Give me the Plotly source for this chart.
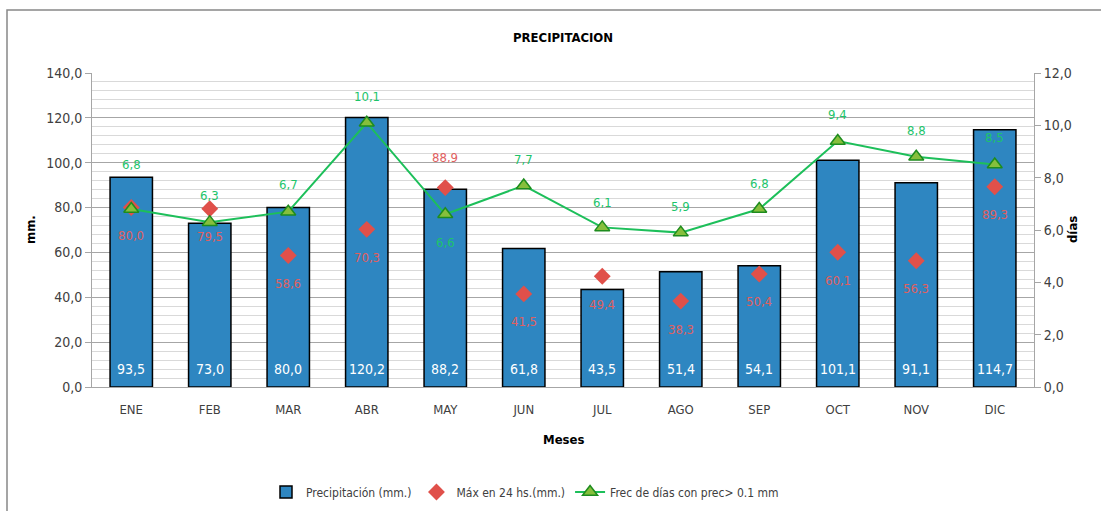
import plotly.graph_objects as go

meses = ["ENE", "FEB", "MAR", "ABR", "MAY", "JUN", "JUL", "AGO", "SEP", "OCT", "NOV", "DIC"]
precip = [93.5, 73.0, 80.0, 120.2, 88.2, 61.8, 43.5, 51.4, 54.1, 101.1, 91.1, 114.7]
max24 = [80.0, 79.5, 58.6, 70.3, 88.9, 41.5, 49.4, 38.3, 50.4, 60.1, 56.3, 89.3]
frec = [6.8, 6.3, 6.7, 10.1, 6.6, 7.7, 6.1, 5.9, 6.8, 9.4, 8.8, 8.5]

# label pixel offsets (style only)
max_shift = [-28, -28, -28, -28, 30, -28, -28, -28, -28, -28, -28, -28]
frec_shift = [45, 27, 27, 26, -28, 26, 25, 26, 26, 27, 26, 27]

FONT = "DejaVu Sans Condensed, Liberation Sans, Arial"

def fmt(v):
    return f"{v:.1f}".replace(".", ",")

fig = go.Figure()
fig.add_trace(go.Bar(
    x=meses, y=precip, name="Precipitación (mm.)",
    marker=dict(color="#2E86C1", line=dict(color="#000000", width=1.5)),
    width=0.54,
))
fig.add_trace(go.Scatter(
    x=meses, y=max24, name="Máx en 24 hs.(mm.)", mode="markers",
    marker=dict(symbol="diamond", size=13, color="#E0504A"),
))
fig.add_trace(go.Scatter(
    x=meses, y=frec, name="Frec de días con prec> 0.1 mm", mode="lines+markers",
    yaxis="y2",
    line=dict(color="#1DBF5A", width=2),
    marker=dict(symbol="triangle-up", size=13, color="#86BF3C", line=dict(color="#1E8C1E", width=1.5)),
))

ann = []
for m, v in zip(meses, precip):
    ann.append(dict(x=m, y=0, xref="x", yref="y", text=fmt(v), showarrow=False,
                    yshift=18, yanchor="middle",
                    font=dict(color="white", size=14, family=FONT)))
for m, v, s in zip(meses, max24, max_shift):
    ann.append(dict(x=m, y=v, xref="x", yref="y", text=fmt(v), showarrow=False,
                    yshift=s, yanchor="middle",
                    font=dict(color="#E06060", size=13, family=FONT)))
for m, v, s in zip(meses, frec, frec_shift):
    ann.append(dict(x=m, y=v, xref="x", yref="y2", text=fmt(v), showarrow=False,
                    yshift=s, yanchor="middle",
                    font=dict(color="#1DC46A", size=13, family=FONT)))
# titles
ann.append(dict(x=0.5, y=(387 - 38) / 314, xref="paper", yref="paper", text="<b>PRECIPITACION</b>",
                showarrow=False, yanchor="middle", font=dict(size=13, color="#000000", family=FONT)))
ann.append(dict(x=0.5, y=(387 - 439) / 314, xref="paper", yref="paper", text="<b>Meses</b>",
                showarrow=False, yanchor="middle", font=dict(size=13, color="#000000", family=FONT)))
ann.append(dict(x=(30 - 92) / 942, y=0.5, xref="paper", yref="paper", text="<b>mm.</b>", textangle=-90,
                showarrow=False, xanchor="center", yanchor="middle", font=dict(size=13, color="#000000", family=FONT)))
ann.append(dict(x=(1072 - 92) / 942, y=0.5, xref="paper", yref="paper", text="<b>días</b>", textangle=-90,
                showarrow=False, xanchor="center", yanchor="middle", font=dict(size=13, color="#000000", family=FONT)))

fig.update_layout(
    width=1101, height=511,
    margin=dict(l=92, r=67, t=73, b=124, autoexpand=False),
    paper_bgcolor="white", plot_bgcolor="white",
    separators=",.",
    font=dict(family=FONT, size=13, color="#404040"),
    showlegend=True,
    legend=dict(orientation="h", x=(525 - 92) / 942, xanchor="center", y=(387 - 492) / 314, yanchor="middle",
                font=dict(size=12, color="#404040", family=FONT), traceorder="normal"),
    annotations=ann,
    xaxis=dict(
        range=[-0.5, len(meses) - 0.5],
        showgrid=False, showline=True, linecolor="#A6A6A6", linewidth=1,
        tickfont=dict(size=13, color="#404040"), automargin=False, ticklabelstandoff=10,
    ),
    yaxis=dict(
        range=[0, 140], dtick=20, tickformat=".1f",
        showgrid=True, gridcolor="#A6A6A6", gridwidth=1,
        minor=dict(dtick=4, showgrid=True, gridcolor="#D9D9D9", gridwidth=1),
        showline=True, linecolor="#A6A6A6", linewidth=1,
        ticks="outside", ticklen=6, tickcolor="#A6A6A6",
        tickfont=dict(size=14, color="#404040"), automargin=False,
        zeroline=False,
    ),
    yaxis2=dict(
        range=[0, 12], dtick=2, tickformat=".1f", overlaying="y", side="right",
        showgrid=False, showline=True, linecolor="#A6A6A6", linewidth=1,
        ticks="outside", ticklen=6, tickcolor="#A6A6A6",
        tickfont=dict(size=14, color="#404040"), automargin=False,
        zeroline=False,
    ),
    shapes=[dict(type="rect", xref="paper", yref="paper",
                 x0=(7 - 92) / 942, x1=(1110 - 92) / 942,
                 y0=(387 - 520) / 314, y1=(387 - 10) / 314,
                 line=dict(color="#888888", width=1.5), fillcolor="rgba(0,0,0,0)", layer="below")],
)

fig.write_html("out.html", config={"displayModeBar": False},
               post_script="document.body.style.margin='0';")
